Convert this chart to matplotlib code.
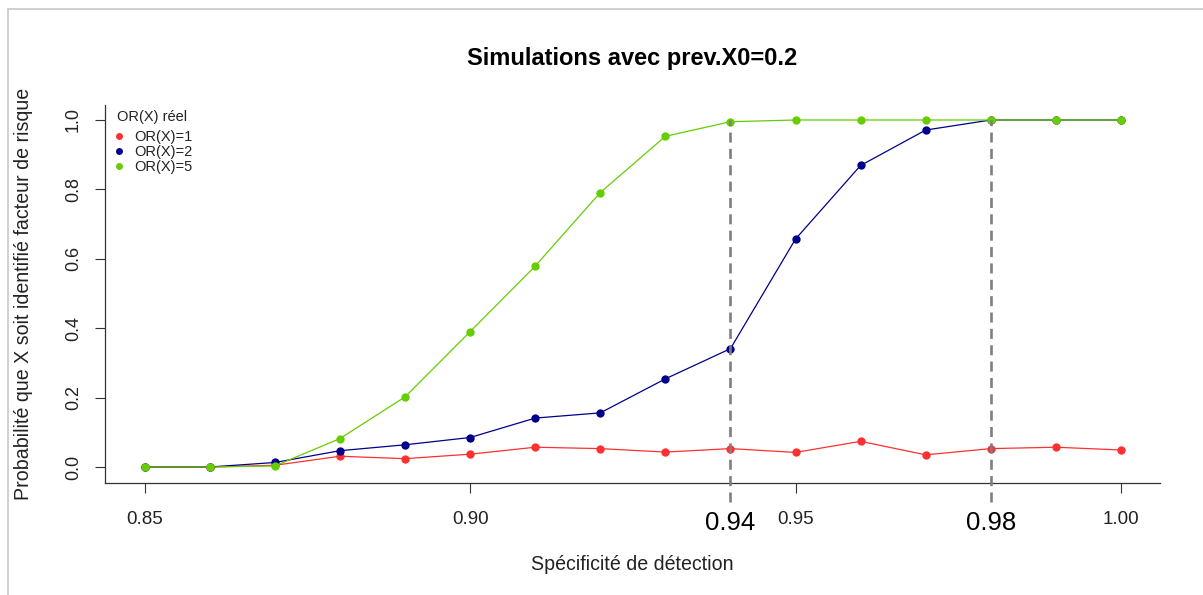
import matplotlib
matplotlib.use("Agg")
import matplotlib.pyplot as plt
from matplotlib.lines import Line2D

plt.rcParams["font.family"] = ["Liberation Sans", "DejaVu Sans"]

# specificity grid and detection probabilities
specif = [0.85, 0.86, 0.87, 0.88, 0.89, 0.90, 0.91, 0.92,
          0.93, 0.94, 0.95, 0.96, 0.97, 0.98, 0.99, 1.00]
p_or1 = [0.000, 0.000, 0.005, 0.031, 0.024, 0.037, 0.057, 0.053,
         0.043, 0.053, 0.042, 0.074, 0.035, 0.053, 0.057, 0.049]
p_or2 = [0.000, 0.000, 0.013, 0.047, 0.064, 0.085, 0.141, 0.156,
         0.254, 0.341, 0.657, 0.869, 0.971, 1.000, 1.000, 1.000]
p_or5 = [0.000, 0.000, 0.003, 0.082, 0.202, 0.390, 0.579, 0.791,
         0.953, 0.995, 1.000, 1.000, 1.000, 1.000, 1.000, 1.000]
series_labels = ["OR(X)=1", "OR(X)=2", "OR(X)=5"]
series_colors = ["#FF3030", "#00008B", "#66CD00"]
marked_specif = [0.94, 0.98]
x_ticks = [0.85, 0.90, 0.95, 1.00]
y_ticks = [0.0, 0.2, 0.4, 0.6, 0.8, 1.0]

W, H = 1203, 595
fig = plt.figure(figsize=(W / 100, H / 100), dpi=100)
ax = fig.add_axes([105 / W, 1 - 483 / H, 1055 / W, 378 / H])

for vals, col in zip([p_or1, p_or2, p_or5], series_colors):
    ax.plot(specif, vals, color=col, lw=0.9, marker="o", ms=6, mew=0)

# vertical markers at the specificities of interest, running below the axis
for xv in marked_specif:
    ax.plot([xv, xv], [-0.1, 1.0], color="#7F7F7F", lw=1.9,
            ls=(0, (3.8, 2.4)), clip_on=False, zorder=5)
    ax.text(xv, -0.162, "%.2f" % xv, ha="center", va="center", fontsize=18.5,
            color="black", clip_on=False)

ax.set_xlim(0.8439, 1.006)
ax.set_ylim(-0.0461, 1.0432)
ax.set_xticks(x_ticks)
ax.set_xticklabels(["%.2f" % v for v in x_ticks])
ax.set_yticks(y_ticks)
ax.set_yticklabels(["%.1f" % v for v in y_ticks], rotation=90, va="center")
ax.tick_params(axis="x", length=7.5, width=0.8, labelsize=13.5, pad=13,
               color="#333333", labelcolor="#222222")
ax.tick_params(axis="y", length=7.5, width=0.8, labelsize=13, pad=9,
               color="#333333", labelcolor="#222222")
for s in ["top", "right"]:
    ax.spines[s].set_visible(False)
for s in ["left", "bottom"]:
    ax.spines[s].set_linewidth(0.9)
    ax.spines[s].set_color("#333333")

# legend without box, title placed separately for R-like spacing
ax.text(0.0114, 0.968, "OR(X) réel", transform=ax.transAxes, ha="left",
        va="center", fontsize=10.5, color="#222222")
handles = [Line2D([], [], ls="none", marker="o", ms=5, mew=0, color=c)
           for c in series_colors]
ax.legend(handles, series_labels, loc="upper left",
          bbox_to_anchor=(0.0095, 0.934), frameon=False, fontsize=10.5,
          labelspacing=0.07, handlelength=0.6, handletextpad=0.7,
          borderpad=0.0, borderaxespad=0.0, labelcolor="#222222")

fig.text(632 / W, 1 - 58 / H, "Simulations avec prev.X0=0.2", ha="center",
         va="center", fontsize=17, fontweight="bold")
fig.text(632 / W, 1 - 565 / H, "Spécificité de détection", ha="center",
         va="center", fontsize=14.1, color="#222222")
fig.text(24 / W, 1 - 294 / H, "Probabilité que X soit identifié facteur de risque",
         ha="center", va="center", rotation=90, fontsize=14.1, color="#222222")

# light frame of the original capture (top and left edges)
fig.add_artist(Line2D([8 / W, 8 / W], [0, 1 - 9 / H], color="#C8C8C8", lw=1.2))
fig.add_artist(Line2D([8 / W, 1], [1 - 9 / H, 1 - 9 / H], color="#C8C8C8", lw=1.2))

fig.savefig("out.png", dpi=100)
